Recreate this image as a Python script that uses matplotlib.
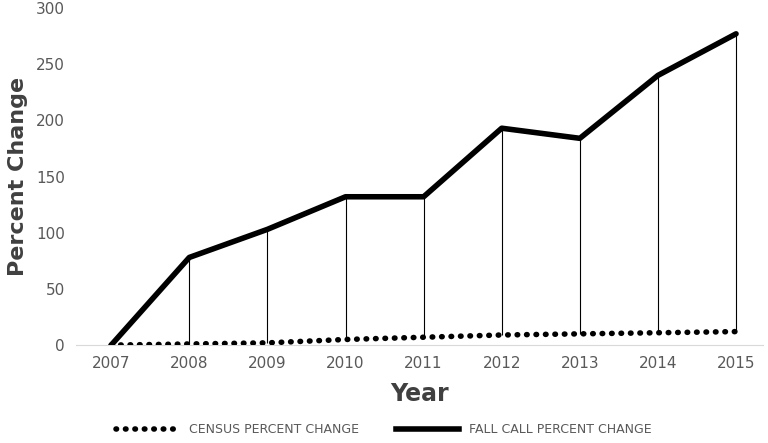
import matplotlib
matplotlib.use("Agg")
import matplotlib.pyplot as plt
from matplotlib.lines import Line2D

years = [2007, 2008, 2009, 2010, 2011, 2012, 2013, 2014, 2015]
fall_call = [0, 78, 103, 132, 132, 193, 184, 240, 277]
census = [0, 1, 2, 5, 7, 9, 10, 11, 12]
yticks = [0, 50, 100, 150, 200, 250, 300]

fig = plt.figure(figsize=(7.68, 4.43), dpi=100)
ax = fig.add_axes([0.099, 0.221, 0.895, 0.761])
ax.vlines(years, census, fall_call, color="black", lw=0.8, zorder=1)
ax.plot(years, fall_call, color="black", lw=4, solid_capstyle="round", zorder=3)
ax.plot(years, census, color="black", lw=4, linestyle=(0, (0.1, 1.6)), dash_capstyle="round", zorder=3)
ax.set_xlim(2006.55, 2015.35)
ax.set_ylim(0, 300)
ax.set_yticks(yticks)
ax.set_xticks(years)
for s in ["top", "right", "left"]:
    ax.spines[s].set_visible(False)
ax.spines["bottom"].set_color("#d9d9d9")
ax.tick_params(length=0, labelsize=11, colors="#595959", pad=8)
ax.set_xlabel("Year", fontsize=17, fontweight="bold", color="#404040", labelpad=8)
ax.set_ylabel("Percent Change", fontsize=16, fontweight="bold", color="#404040", labelpad=6)
handles = [Line2D([], [], color="black", lw=4, linestyle=(0, (0.1, 1.6)), dash_capstyle="round"),
           Line2D([], [], color="black", lw=4)]
fig.legend(handles, ["CENSUS PERCENT CHANGE", "FALL CALL PERCENT CHANGE"], loc="lower center",
           bbox_to_anchor=(0.5, -0.01), ncol=2, frameon=False, fontsize=9, labelcolor="#595959",
           handlelength=5, columnspacing=3)
fig.savefig("out.png", dpi=100)
